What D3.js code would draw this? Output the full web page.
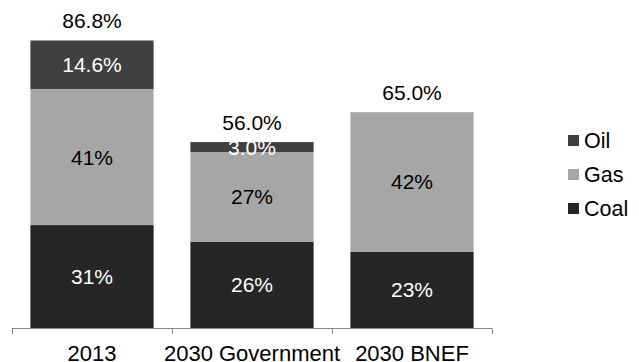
<!DOCTYPE html>
<html>
<head>
<meta charset="utf-8">
<script src="https://cdn.jsdelivr.net/npm/d3@7/dist/d3.min.js"></script>
<style>
  html, body { margin: 0; padding: 0; background: #fff; }
  svg { display: block; font-family: "Liberation Sans", Arial, sans-serif; }
</style>
</head>
<body>
<svg id="chart" width="639" height="362"></svg>
<script>
// Fossil share of generation by scenario (%)
const categories = ["2013", "2030 Government", "2030 BNEF"];
const coal = [31, 26, 23];
const gas = [41, 27, 42];
const oil = [14.6, 3.0, 0];
const totals = [86.8, 56.0, 65.0];

const seriesNames = ["Coal", "Gas", "Oil"];
const seriesColors = { Coal: "#262626", Gas: "#a6a6a6", Oil: "#404040" };
const labelColors = { Coal: "#ffffff", Gas: "#000000", Oil: "#ffffff" };
const labelFormats = { Coal: d3.format(".0f"), Gas: d3.format(".0f"), Oil: d3.format(".1f") };

const rows = categories.map((c, i) => ({ category: c, Coal: coal[i], Gas: gas[i], Oil: oil[i], total: totals[i] }));

const svg = d3.select("#chart");
const fontSize = 21;

const x = d3.scaleBand().domain(categories).range([12, 492]).paddingInner(0.23).paddingOuter(0.115);
const y = d3.scaleLinear().domain([0, 90]).range([328, 29.2]);

const stacked = d3.stack().keys(seriesNames)(rows);

const layers = svg.append("g").selectAll("g")
  .data(stacked)
  .join("g")
  .attr("fill", d => seriesColors[d.key]);

layers.selectAll("rect")
  .data(d => d.filter(s => s[1] - s[0] > 0))
  .join("rect")
  .attr("x", d => x(d.data.category))
  .attr("width", x.bandwidth())
  .attr("y", d => y(d[1]))
  .attr("height", d => y(d[0]) - y(d[1]));

// Segment value labels
stacked.forEach(layer => {
  svg.append("g").selectAll("text")
    .data(layer.filter(s => s[1] - s[0] > 0))
    .join("text")
    .attr("x", d => x(d.data.category) + x.bandwidth() / 2)
    .attr("y", d => (y(d[0]) + y(d[1])) / 2)
    .attr("dy", "0.36em")
    .attr("text-anchor", "middle")
    .attr("font-size", fontSize)
    .attr("fill", labelColors[layer.key])
    .text(d => labelFormats[layer.key](d[1] - d[0]) + "%");
});

// Totals above each stack
svg.append("g").selectAll("text")
  .data(rows)
  .join("text")
  .attr("x", d => x(d.category) + x.bandwidth() / 2)
  .attr("y", d => y(d.total) - 12)
  .attr("text-anchor", "middle")
  .attr("font-size", fontSize)
  .attr("fill", "#000")
  .text(d => d3.format(".1f")(d.total) + "%");

// Category axis with ticks between the bands
const axisG = svg.append("g");
axisG.append("line")
  .attr("x1", x.range()[0]).attr("x2", x.range()[1])
  .attr("y1", 328.5).attr("y2", 328.5)
  .attr("stroke", "#868686").attr("stroke-width", 1);
const tickXs = d3.range(categories.length + 1).map(i => x.range()[0] + i * (x.range()[1] - x.range()[0]) / categories.length);
axisG.selectAll("line.tick")
  .data(tickXs)
  .join("line")
  .attr("class", "tick")
  .attr("x1", d => Math.round(d) + 0.5).attr("x2", d => Math.round(d) + 0.5)
  .attr("y1", 328.5).attr("y2", 334)
  .attr("stroke", "#868686").attr("stroke-width", 1);
axisG.selectAll("text")
  .data(categories)
  .join("text")
  .attr("x", d => x(d) + x.bandwidth() / 2)
  .attr("y", 360.5)
  .attr("text-anchor", "middle")
  .attr("font-size", 22)
  .attr("fill", "#000")
  .text(d => d);

// Legend (top series first)
const legendKeys = seriesNames.slice().reverse();
const legend = svg.append("g").selectAll("g")
  .data(legendKeys)
  .join("g")
  .attr("transform", (d, i) => `translate(568, ${140.5 + i * 34})`);
legend.append("rect")
  .attr("x", 0).attr("y", -5.5)
  .attr("width", 11).attr("height", 11)
  .attr("fill", d => seriesColors[d]);
legend.append("text")
  .attr("x", 16).attr("y", 0)
  .attr("dy", "0.36em")
  .attr("font-size", 21.5)
  .attr("fill", "#000")
  .text(d => d);
</script>
</body>
</html>
